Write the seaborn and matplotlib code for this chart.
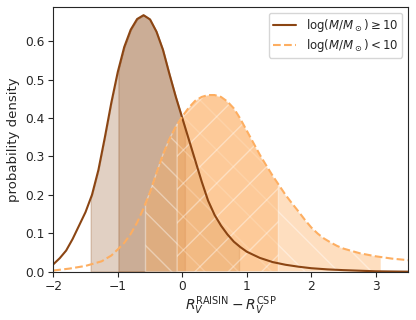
import numpy as np
import matplotlib
matplotlib.use("Agg")
import matplotlib.pyplot as plt
import seaborn as sns

# density curves
x_high = [-2.0, -1.9, -1.8, -1.7, -1.6, -1.5, -1.4, -1.3, -1.2, -1.1, -1.0, -0.9, -0.8,
          -0.7, -0.6, -0.5, -0.4, -0.3, -0.2, -0.1, 0.0, 0.1, 0.2, 0.3, 0.4, 0.5, 0.6,
          0.7, 0.8, 0.9, 1.0, 1.2, 1.4, 1.6, 1.8, 2.0, 2.25, 2.5, 3.0, 3.5]
pdf_high = [0.019, 0.035, 0.055, 0.085, 0.12, 0.155, 0.2, 0.265, 0.35, 0.44, 0.52, 0.585,
            0.63, 0.658, 0.668, 0.657, 0.625, 0.578, 0.515, 0.455, 0.40, 0.345, 0.29,
            0.235, 0.185, 0.148, 0.12, 0.097, 0.078, 0.064, 0.052, 0.036, 0.025, 0.018,
            0.013, 0.009, 0.006, 0.004, 0.001, 0.0]

x_low = [-2.0, -1.75, -1.5, -1.25, -1.1, -1.0, -0.9, -0.8, -0.7, -0.6, -0.5, -0.4, -0.3,
         -0.2, -0.1, 0.0, 0.1, 0.2, 0.3, 0.4, 0.5, 0.6, 0.7, 0.8, 0.9, 1.0, 1.1, 1.2,
         1.3, 1.4, 1.5, 1.6, 1.7, 1.8, 1.9, 2.0, 2.1, 2.2, 2.3, 2.4, 2.5, 2.75, 3.0,
         3.25, 3.5]
pdf_low = [0.003, 0.008, 0.015, 0.027, 0.042, 0.058, 0.075, 0.098, 0.128, 0.165, 0.207,
           0.257, 0.305, 0.345, 0.378, 0.404, 0.427, 0.445, 0.455, 0.46, 0.46, 0.455,
           0.443, 0.425, 0.398, 0.367, 0.336, 0.305, 0.277, 0.25, 0.225, 0.2, 0.178,
           0.157, 0.135, 0.115, 0.099, 0.086, 0.076, 0.067, 0.06, 0.048, 0.04, 0.034,
           0.03]

# credible intervals (1 sigma, 2 sigma)
band_high_1s = (-0.99, 0.04)
band_high_2s = (-1.42, 0.88)
band_low_1s = (-0.08, 1.49)
band_low_2s = (-0.57, 3.08)

labels = [r'$\log(M/M_\odot)\geq10$', r'$\log(M/M_\odot)<10$']
c_high = '#8b4513'
c_low = '#fdae61'

sns.set_style("ticks")
plt.rcParams['font.family'] = ['DejaVu Sans']
plt.rcParams['hatch.linewidth'] = 1.0

fig, ax = plt.subplots(figsize=(4.16, 3.2), dpi=100)


def band(xs, ys, lo, hi, **kw):
    xx = np.concatenate([[lo], [v for v in xs if lo < v < hi], [hi]])
    yy = np.interp(xx, xs, ys)
    ax.fill_between(xx, 0, yy, **kw)


band(x_high, pdf_high, *band_high_2s, color=c_high, alpha=0.25, lw=1)
band(x_high, pdf_high, *band_high_1s, color=c_high, alpha=0.25, lw=1)
band(x_low, pdf_low, *band_low_2s, facecolor=c_low, alpha=0.4, edgecolor='white',
     hatch='\\', lw=1)
band(x_low, pdf_low, *band_low_1s, facecolor=c_low, alpha=0.4, edgecolor='white',
     hatch='/', lw=1)

sns.lineplot(x=x_high, y=pdf_high, ax=ax, color=c_high, lw=1.5, label=labels[0])
sns.lineplot(x=x_low, y=pdf_low, ax=ax, color=c_low, lw=1.5, ls='--', label=labels[1])

ax.set_xlim(-2, 3.5)
ax.set_ylim(0, 0.69)
ax.set_xlabel(r'$R_V^{\rm RAISIN} - R_V^{\rm CSP}$', fontsize=10, labelpad=1)
ax.set_ylabel('probability density', fontsize=9.5)
ax.tick_params(labelsize=8.8, pad=2.5)
ax.legend(loc='upper right', fontsize=8.5, labelspacing=0.25, borderpad=0.35)

plt.subplots_adjust(left=0.128, right=0.981, top=0.979, bottom=0.151)
plt.savefig('out.png', dpi=100)
